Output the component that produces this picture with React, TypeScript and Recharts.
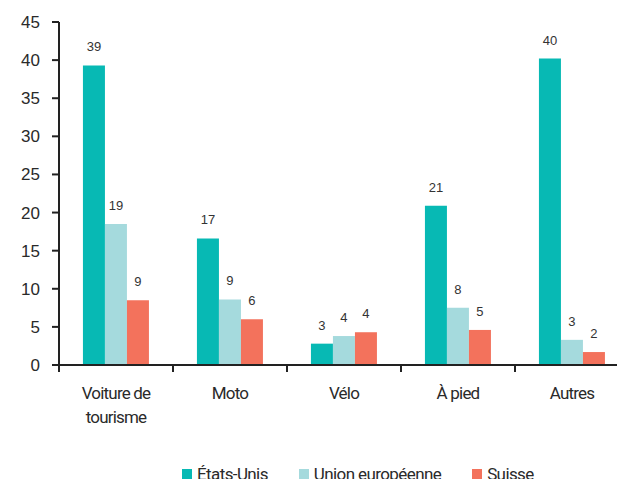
import React from 'react';
import { BarChart, Bar, XAxis, YAxis, Legend, LabelList } from 'recharts';

const categories = ['Voiture de\ntourisme', 'Moto', 'Vélo', 'À pied', 'Autres'];
const etatsUnis = [39.3, 16.6, 2.8, 20.9, 40.2];
const unionEuropeenne = [18.5, 8.6, 3.8, 7.5, 3.3];
const suisse = [8.5, 6.0, 4.3, 4.6, 1.7];
const yTicks = [0, 5, 10, 15, 20, 25, 30, 35, 40, 45];

const series = [
    { key: 'etatsUnis', name: 'États-Unis', color: '#07b9b4' },
    { key: 'unionEuropeenne', name: 'Union européenne', color: '#a5dadd' },
    { key: 'suisse', name: 'Suisse', color: '#f3725c' },
];

const data = categories.map((category, i) => ({
    category,
    etatsUnis: etatsUnis[i],
    unionEuropeenne: unionEuropeenne[i],
    suisse: suisse[i],
}));

const narrow = 'Roboto, "Noto Sans", sans-serif';
const regular = '"Liberation Sans", Arial, sans-serif';
const axisColor = '#222';

const CategoryTick = (props: any) => {
    const { x, y, payload, index } = props;
    const half = payload?.offset || 57;
    const lines = String(payload.value).split('\n');
    const isLast = index === categories.length - 1;
    return (
        <g>
            <line x1={x - half} x2={x - half} y1={y} y2={y + 7} stroke={axisColor} strokeWidth={2} />
            {isLast && <line x1={x + half} x2={x + half} y1={y} y2={y + 7} stroke={axisColor} strokeWidth={2} />}
            {lines.map((line, i) => (
                <text key={i} x={x} y={y + 34 + i * 24} textAnchor="middle" fill="#2a2a2a"
                    fontSize={17} fontFamily={narrow} letterSpacing={-0.8}>
                    {line}
                </text>
            ))}
        </g>
    );
};

const LegendContent = () => (
    <div style={{ display: 'flex', alignItems: 'center', height: 24, paddingLeft: 174, gap: 31,
        fontFamily: narrow, fontSize: 17, letterSpacing: -0.6, color: '#2a2a2a' }}>
        {series.map(s => (
            <div key={s.key} style={{ display: 'flex', alignItems: 'center' }}>
                <span style={{ display: 'inline-block', width: 10, height: 10, background: s.color, marginRight: 5 }} />
                <span>{s.name}</span>
            </div>
        ))}
    </div>
);

export default function App() {
    return (
        <div style={{ width: 617, height: 471, overflow: 'hidden' }}>
            <BarChart width={630} height={478} data={data}
                margin={{ top: 14, right: 9, left: 0, bottom: 0 }}
                barCategoryGap="21%" barGap={0}>
                <XAxis dataKey="category" height={97} interval={0}
                    axisLine={{ stroke: axisColor, strokeWidth: 2 }}
                    tickLine={false} tickSize={0} tickMargin={0}
                    tick={<CategoryTick />} />
                <YAxis width={51} domain={[0, 45]} ticks={yTicks} interval={0}
                    axisLine={{ stroke: axisColor, strokeWidth: 2 }}
                    tickLine={{ stroke: axisColor, strokeWidth: 2 }} tickSize={7} tickMargin={12}
                    tick={{ fill: '#2a2a2a', fontSize: 17, fontFamily: regular }} />
                <Legend verticalAlign="bottom" content={<LegendContent />} />
                {series.map(s => (
                    <Bar key={s.key} dataKey={s.key} name={s.name} fill={s.color} isAnimationActive={false}>
                        <LabelList dataKey={s.key} position="top" offset={14}
                            formatter={(v: any) => Math.round(Number(v))}
                            fill="#333" fontSize={13} fontFamily={regular} />
                    </Bar>
                ))}
            </BarChart>
        </div>
    );
}
